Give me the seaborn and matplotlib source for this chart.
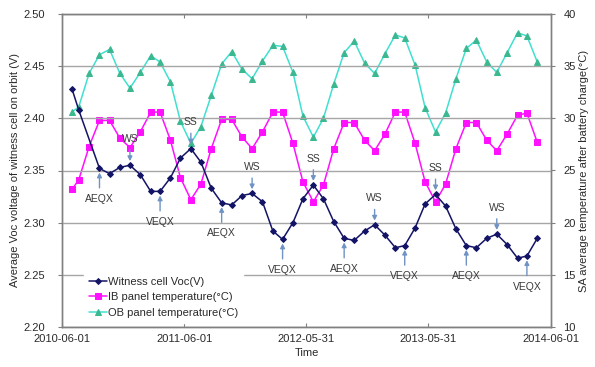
import matplotlib
matplotlib.use("Agg")
import matplotlib.pyplot as plt
import numpy as np
import pandas as pd
import seaborn as sns

# Sampling dates (first sample at start of July 2010, then monthly on the 21st)
dates = [
    "2010-07-01", "2010-07-21", "2010-08-21", "2010-09-21", "2010-10-21", "2010-11-21",
    "2010-12-21", "2011-01-21", "2011-02-21", "2011-03-21", "2011-04-21", "2011-05-21",
    "2011-06-21", "2011-07-21", "2011-08-21", "2011-09-21", "2011-10-21", "2011-11-21",
    "2011-12-21", "2012-01-21", "2012-02-21", "2012-03-21", "2012-04-21", "2012-05-21",
    "2012-06-21", "2012-07-21", "2012-08-21", "2012-09-21", "2012-10-21", "2012-11-21",
    "2012-12-21", "2013-01-21", "2013-02-21", "2013-03-21", "2013-04-21", "2013-05-21",
    "2013-06-21", "2013-07-21", "2013-08-21", "2013-09-21", "2013-10-21", "2013-11-21",
    "2013-12-21", "2014-01-21", "2014-02-21", "2014-03-21", "2014-04-21",
]

# Witness cell open-circuit voltage (V); no sample for Aug 2010
witness_voc = [
    2.428, 2.408, np.nan, 2.352, 2.347, 2.353, 2.355, 2.346, 2.330, 2.330, 2.343, 2.362,
    2.371, 2.358, 2.333, 2.319, 2.317, 2.326, 2.328, 2.320, 2.292, 2.284, 2.300, 2.323,
    2.336, 2.323, 2.301, 2.285, 2.283, 2.292, 2.298, 2.288, 2.276, 2.278, 2.295, 2.318,
    2.327, 2.316, 2.294, 2.278, 2.276, 2.285, 2.289, 2.279, 2.266, 2.268, 2.285,
]

# Inboard panel temperature (°C)
ib_temp = [
    23.2, 24.1, 27.3, 29.8, 29.8, 28.1, 27.2, 28.7, 30.6, 30.6, 27.9, 24.3,
    22.2, 23.7, 27.1, 29.9, 29.9, 28.2, 27.1, 28.7, 30.6, 30.6, 27.6, 23.9,
    22.0, 23.6, 27.1, 29.6, 29.6, 27.9, 26.9, 28.5, 30.6, 30.6, 27.6, 23.9,
    22.0, 23.7, 27.1, 29.6, 29.6, 27.9, 26.9, 28.5, 30.3, 30.5, 27.7,
]

# Outboard panel temperature (°C)
ob_temp = [
    30.6, 31.1, 34.3, 36.1, 36.6, 34.3, 32.9, 34.4, 36.0, 35.4, 33.5, 29.7,
    27.6, 29.2, 32.2, 35.2, 36.4, 34.7, 33.8, 35.5, 37.0, 36.9, 34.4, 30.2,
    28.2, 30.0, 33.3, 36.3, 37.4, 35.3, 34.3, 36.2, 38.0, 37.7, 35.1, 31.0,
    28.7, 30.5, 33.8, 36.7, 37.5, 35.4, 34.4, 36.3, 38.2, 37.9, 35.4,
]

# Seasonal events marked on the voltage curve: (label, sample index)
events = [
    ("AEQX", 3), ("WS", 6), ("VEQX", 9), ("SS", 12),
    ("AEQX", 15), ("WS", 18), ("VEQX", 21), ("SS", 24),
    ("AEQX", 27), ("WS", 30), ("VEQX", 33), ("SS", 36),
    ("AEQX", 39), ("WS", 42), ("VEQX", 45),
]

x_ticks = ["2010-06-01", "2011-06-01", "2012-05-31", "2013-05-31", "2014-06-01"]
left_ticks = [2.20, 2.25, 2.30, 2.35, 2.40, 2.45, 2.50]
right_ticks = [10, 15, 20, 25, 30, 35, 40]

df = pd.DataFrame({
    "date": pd.to_datetime(dates),
    "voc": witness_voc,
    "ib": ib_temp,
    "ob": ob_temp,
})

sns.set_theme(style="white")
plt.rcParams["font.family"] = ["Liberation Sans", "DejaVu Sans"]
plt.rcParams["font.size"] = 8

fig = plt.figure(figsize=(5.95, 3.67), dpi=100)
ax = fig.add_axes([62 / 595, 1 - 327 / 367, (551 - 62) / 595, (327 - 14) / 367])
ax2 = ax.twinx()

text_c = "#2a2a2a"
navy = "#141466"
magenta = "#ff10ff"
turq = "#40e0d0"
tri = "#3cb890"
arrow_c = "#6f93c4"

voc_df = df.dropna(subset=["voc"])
sns.lineplot(data=voc_df, x="date", y="voc", ax=ax, color=navy, lw=1.1,
             marker="D", markersize=3.0, markeredgecolor=navy, markerfacecolor=navy,
             label="Witness cell Voc(V)", legend=False, zorder=3)
sns.lineplot(data=df, x="date", y="ib", ax=ax2, color=magenta, lw=1.1,
             marker="s", markersize=4.6, markeredgecolor=magenta, markerfacecolor=magenta,
             label="IB panel temperature(°C)", legend=False, zorder=2)
sns.lineplot(data=df, x="date", y="ob", ax=ax2, color=turq, lw=1.1,
             marker="^", markersize=4.0, markeredgecolor=tri, markerfacecolor=tri,
             label="OB panel temperature(°C)", legend=False, zorder=2)

# Draw the voltage axis on top of the temperature axis so its curve and labels stay visible
ax.set_zorder(ax2.get_zorder() + 1)
ax.patch.set_visible(False)

xmin, xmax = pd.Timestamp(x_ticks[0]), pd.Timestamp(x_ticks[-1])
ax.set_xlim(xmin, xmax)
ax.set_ylim(left_ticks[0], left_ticks[-1])
ax2.set_ylim(right_ticks[0], right_ticks[-1])

ax.set_xticks(pd.to_datetime(x_ticks))
ax.set_xticklabels(x_ticks)
ax.set_yticks(left_ticks)
ax.set_yticklabels([f"{v:.2f}" for v in left_ticks])
ax2.set_yticks(right_ticks)
ax2.set_yticklabels([str(v) for v in right_ticks])

ax.yaxis.grid(True, color="#a6a6a6", lw=1.0)
ax.xaxis.grid(False)
ax2.grid(False)

for a in (ax, ax2):
    for s in a.spines.values():
        s.set_color("#808080")
        s.set_linewidth(1.0)

ax.tick_params(axis="y", direction="out", length=3, width=0.8, color="#808080",
               pad=9, labelsize=8, labelcolor=text_c, left=True)
ax.tick_params(axis="x", direction="in", length=3, width=0.8, color="#808080",
               pad=5, labelsize=8, labelcolor=text_c, bottom=True, top=True)
ax2.tick_params(axis="y", direction="out", length=3, width=0.8, color="#808080",
                pad=6, labelsize=8, labelcolor=text_c, right=True)

ax.set_xlabel("Time", fontsize=8, color=text_c, labelpad=3)
ax.set_ylabel("Average Voc voltage of witness cell on orbit (V)", fontsize=8,
              color=text_c, labelpad=3)
ax2.set_ylabel("SA average temperature after battery charge(°C)", fontsize=8,
               color=text_c, labelpad=2)

# Event annotations: equinoxes below the curve, solstices above it
for label, i in events:
    d = df["date"].iloc[i]
    v = df["voc"].iloc[i]
    below = label in ("AEQX", "VEQX")
    dy = -22 if below else 19
    ax.annotate(label, xy=(d, v), xytext=(0, dy), textcoords="offset points",
                ha="center", va="center", fontsize=7.5, color="#3a3a3a",
                arrowprops=dict(arrowstyle="-|>,head_length=0.35,head_width=0.18",
                                color=arrow_c, lw=1.0, shrinkA=2, shrinkB=3),
                zorder=4)

h1, l1 = ax.get_legend_handles_labels()
h2, l2 = ax2.get_legend_handles_labels()
leg = ax.legend(h1 + h2, l1 + l2, loc="lower left", bbox_to_anchor=(0.04, 0.005),
                frameon=True, facecolor="white", edgecolor="white", framealpha=1,
                fontsize=8, handlelength=1.6, handletextpad=0.05, labelspacing=0.5,
                borderpad=0.5, borderaxespad=0.2)
for t in leg.get_texts():
    t.set_color(text_c)
leg.set_zorder(5)

fig.savefig("out.png", dpi=100)
